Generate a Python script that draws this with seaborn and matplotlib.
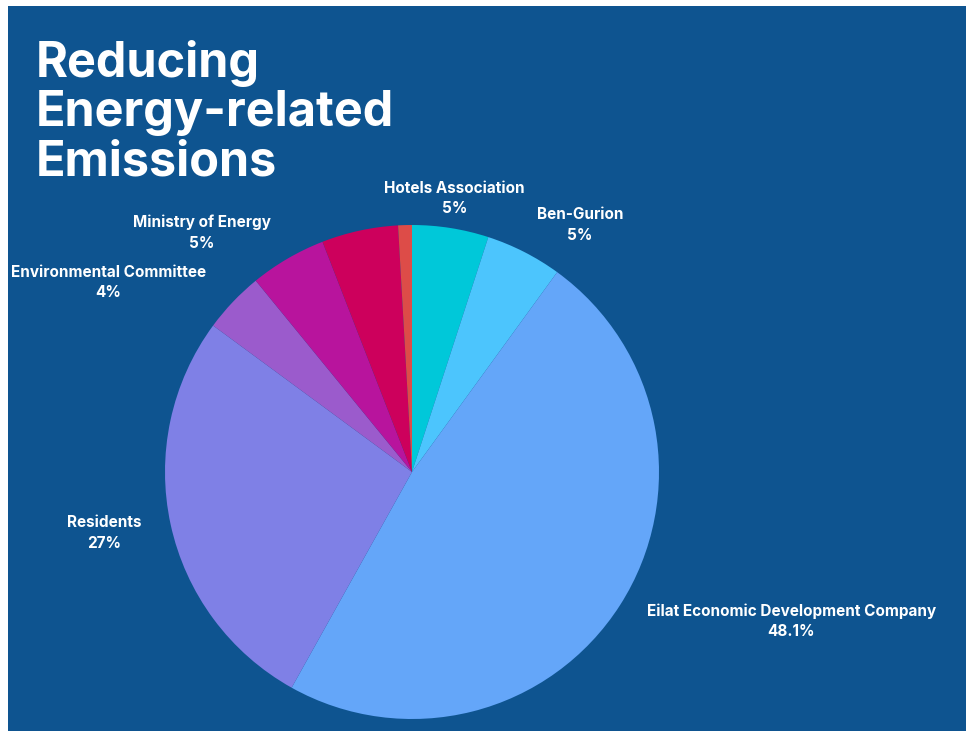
import numpy as np
import matplotlib
matplotlib.use("Agg")
import matplotlib.pyplot as plt
import seaborn as sns
from matplotlib.patches import Rectangle

# ---- data ----
categories = ["Hotels Association", "Ben-Gurion", "Eilat Economic Development Company",
              "Residents", "Environmental Committee", "Ministry of Energy", "Other", "Other (small)"]
values = [5, 5, 48.1, 27, 4, 5, 5, 0.9]
value_labels = ["5%", "5%", "48.1%", "27%", "4%", "5%", "", ""]
show_label = [True, True, True, True, True, True, False, False]
colors = ["#00c8d9", "#4cc5fd", "#64a6f9", "#7f80e6", "#9b5bcc", "#b8149d", "#cd005c", "#dd4c48"]

# label layout: (angle in degrees, radius factor) of each label's anchor
label_layout = [(81.1, 1.12), (55.8, 1.21), (-21.5, 1.65), (191.2, 1.27),
                (148.0, 1.45), (131.3, 1.29), (0, 0), (0, 0)]

sns.set_theme(style="white")
plt.rcParams['font.family'] = ['Inter', 'DejaVu Sans']

W, H = 968, 731
fig = plt.figure(figsize=(W / 100, H / 100), dpi=100, facecolor="white")
ax = fig.add_axes([0, 0, 1, 1])

bg = "#0e5490"
ax.add_patch(Rectangle((8, 0), W - 10, H - 6, facecolor=bg, edgecolor="none", zorder=0))

cx, cy, R = 412, H - 472, 247
pal = sns.color_palette(colors)
wedges, _ = ax.pie(values, colors=pal, startangle=90, counterclock=False,
                   center=(cx, cy), radius=R, frame=True,
                   wedgeprops=dict(linewidth=0, zorder=2))
ax.set_xlim(0, W)
ax.set_ylim(0, H)
ax.set_aspect("equal")
ax.axis("off")

for name, vl, show, (ang, rf) in zip(categories, value_labels, show_label, label_layout):
    if not show:
        continue
    a = np.deg2rad(ang)
    x = cx + R * rf * np.cos(a)
    y = cy + R * rf * np.sin(a)
    ax.text(x, y, f"{name}\n{vl}", ha="center", va="center", color="white",
            fontsize=11, fontweight="bold", linespacing=1.45, zorder=3)

fig.text(36 / W, 1 - 40 / H, "Reducing\nEnergy-related\nEmissions", ha="left", va="top",
         color="white", fontsize=35, fontweight="bold", linespacing=1.09)

fig.savefig("out.png", dpi=100, facecolor="white")
